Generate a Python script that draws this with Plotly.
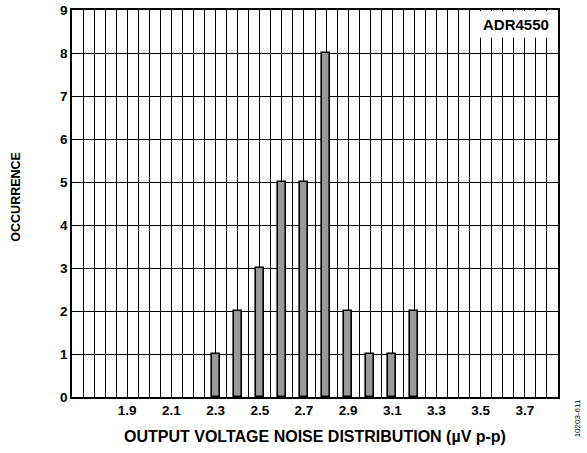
import plotly.graph_objects as go

noise_uv = [2.3, 2.4, 2.5, 2.6, 2.7, 2.8, 2.9, 3.0, 3.1, 3.2]
occurrence = [1, 2, 3, 5, 5, 8, 2, 1, 1, 2]
x_tick_vals = [1.9, 2.1, 2.3, 2.5, 2.7, 2.9, 3.1, 3.3, 3.5, 3.7]
x_tick_text = ["1.9", "2.1", "2.3", "2.5", "2.7", "2.9", "3.1", "3.3", "3.5", "3.7"]
y_tick_vals = [0, 1, 2, 3, 4, 5, 6, 7, 8, 9]

FONT = "Liberation Sans, Arial, sans-serif"

fig = go.Figure()
fig.add_trace(go.Bar(
    x=noise_uv, y=occurrence, width=0.036,
    marker=dict(color="#999999", line=dict(color="black", width=1.6)),
))

fig.update_layout(
    width=587, height=453,
    margin=dict(l=72, r=29, t=10, b=56, autoexpand=False),
    plot_bgcolor="white", paper_bgcolor="white",
    showlegend=False,
    font=dict(family=FONT, size=13, color="black", weight="bold"),
    xaxis=dict(
        range=[1.65, 3.85], automargin=False,
        tickvals=x_tick_vals, ticktext=x_tick_text,
        showgrid=True, gridcolor="black", gridwidth=1,
        minor=dict(dtick=0.05, tick0=1.65, showgrid=True, gridcolor="black", gridwidth=1),
        showline=True, mirror=True, linecolor="black", linewidth=1.5,
        ticks="", zeroline=False,
        tickfont=dict(family=FONT, size=13.5, color="black", weight="bold"),
    ),
    yaxis=dict(
        range=[0, 9], automargin=False,
        tickvals=y_tick_vals,
        showgrid=True, gridcolor="black", gridwidth=1,
        showline=True, mirror=True, linecolor="black", linewidth=1.5,
        ticks="", zeroline=False,
        tickfont=dict(family=FONT, size=13.5, color="black", weight="bold"),
    ),
    bargap=0,
)

fig.add_shape(type="rect", xref="paper", yref="paper",
              x0=0.833, x1=0.996, y0=0.928, y1=0.997,
              fillcolor="white", line=dict(width=0), layer="above")
fig.add_annotation(text="ADR4550", xref="paper", yref="paper",
                   x=0.914, y=0.963, xanchor="center", yanchor="middle", showarrow=False,
                   font=dict(family=FONT, size=15, color="black", weight="bold"))
fig.add_annotation(text="OUTPUT VOLTAGE NOISE DISTRIBUTION (µV p-p)", xref="paper", yref="paper",
                   x=0.501, y=-0.103, xanchor="center", yanchor="middle", showarrow=False,
                   font=dict(family=FONT, size=16, color="black", weight="bold"))
fig.add_annotation(text="OCCURRENCE", xref="paper", yref="paper",
                   x=-0.117, y=0.518, xanchor="center", yanchor="middle", showarrow=False, textangle=-90,
                   font=dict(family=FONT, size=12.5, color="black", weight="bold"))
fig.add_annotation(text="10203-611", xref="paper", yref="paper",
                   x=1.04, y=-0.054, xanchor="center", yanchor="middle", showarrow=False, textangle=-90,
                   font=dict(family=FONT, size=8, color="black", weight="normal"))

fig.write_html("out.html", config={"displayModeBar": False},
               post_script="document.body.style.margin='0';")
